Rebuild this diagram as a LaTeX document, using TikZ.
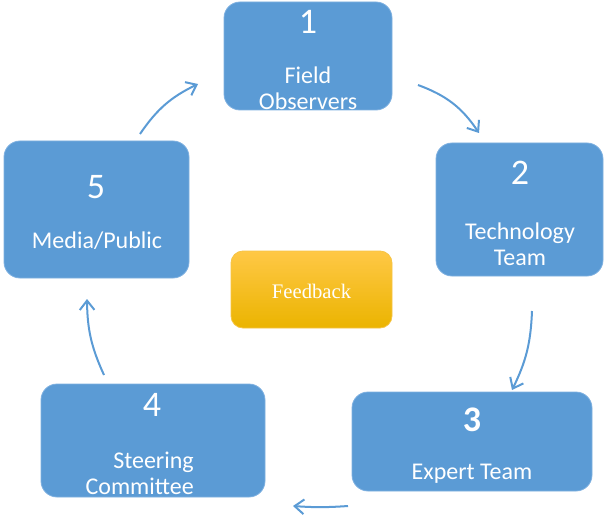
\documentclass[tikz,border=0pt]{standalone}
\usepackage{fontspec}
\setmainfont{Carlito}
\newfontfamily\fbfont{Liberation Serif}
\usetikzlibrary{arrows.meta}

\definecolor{boxblue}{RGB}{91,155,213}
\definecolor{boxedge}{RGB}{126,176,224}

\tikzset{
  stage/.style={rectangle,rounded corners=12pt,fill=boxblue,draw=boxedge,line width=0.6pt},
  num/.style={text=white,font=\fontsize{27}{30}\selectfont,inner sep=0.75pt},
  lbl/.style={text=white,font=\fontsize{18}{19.5}\selectfont,align=center,inner sep=0.75pt},
  flow/.style={draw=boxblue,line width=1.5pt,-{Straight Barb[length=7pt,width=11pt,line width=1.5pt]}}
}

\begin{document}
\begin{tikzpicture}[x=0.75pt,y=0.75pt,yscale=-1,xscale=1]
\useasboundingbox (0,0) rectangle (604,517);
% the five stages
\node [stage,minimum width=126pt,minimum height=81pt] (obs) at (308,56) {};
\node [stage,minimum width=125.25pt,minimum height=99.75pt] (tech) at (519.5,209.5) {};
\node [stage,minimum width=180pt,minimum height=74.25pt] (expert) at (472,441.5) {};
\node [stage,minimum width=168pt,minimum height=84.75pt] (steer) at (153,440.5) {};
\node [stage,minimum width=138.75pt,minimum height=102.75pt] (media) at (96.5,209.5) {};
% feedback box in the middle
\node [rectangle,rounded corners=9pt,draw={rgb,255:red,246;green,196;blue,70},line width=0.6pt,
  top color={rgb,255:red,255;green,200;blue,70},middle color={rgb,255:red,255;green,192;blue,0},
  bottom color={rgb,255:red,235;green,180;blue,0},
  minimum width=120.75pt,minimum height=57.75pt] (fb) at (311.5,289.5) {};
\node [text=white,font=\fbfont\fontsize{15.5}{18}\selectfont] (fbtxt) at (311.5,291) {Feedback};
% numbers
\node [num] (n1) at (308,22) {1};
\node [num] (n2) at (520,173) {2};
\node [num,font=\bfseries\fontsize{27}{30}\selectfont] (n3) at (472,420) {3};
\node [num] (n4) at (152,405) {4};
\node [num] (n5) at (96,187) {5};
% names
\node [lbl] (l1) at (308,88) {Field\\Observers};
\node [lbl] (l2) at (520,244) {Technology\\Team};
\node [lbl] (l3) at (472,474) {Expert Team};
\node [lbl,align=right,anchor=east] (l4) at (195,473) {Steering\\Committee};
\node [lbl] (l5) at (97,241) {Media/Public};
% arrows round the cycle
\coordinate (a1) at (418,85);
\coordinate (b1) at (479,133);
\coordinate (a2) at (532,311);
\coordinate (b2) at (512,390);
\coordinate (a3) at (348,506);
\coordinate (b3) at (293,506);
\coordinate (a4) at (104,375);
\coordinate (b4) at (87,299);
\coordinate (a5) at (140,134);
\coordinate (b5) at (198,84);
\draw [flow] (a1) to[bend right=18] (b1);
\draw [flow] (a2) to[bend right=12] (b2);
\draw [flow] (a3) to[bend right=4] (b3);
\draw [flow] (a4) to[bend right=12] (b4);
\draw [flow] (a5) to[bend right=15] (b5);
\end{tikzpicture}
\end{document}
